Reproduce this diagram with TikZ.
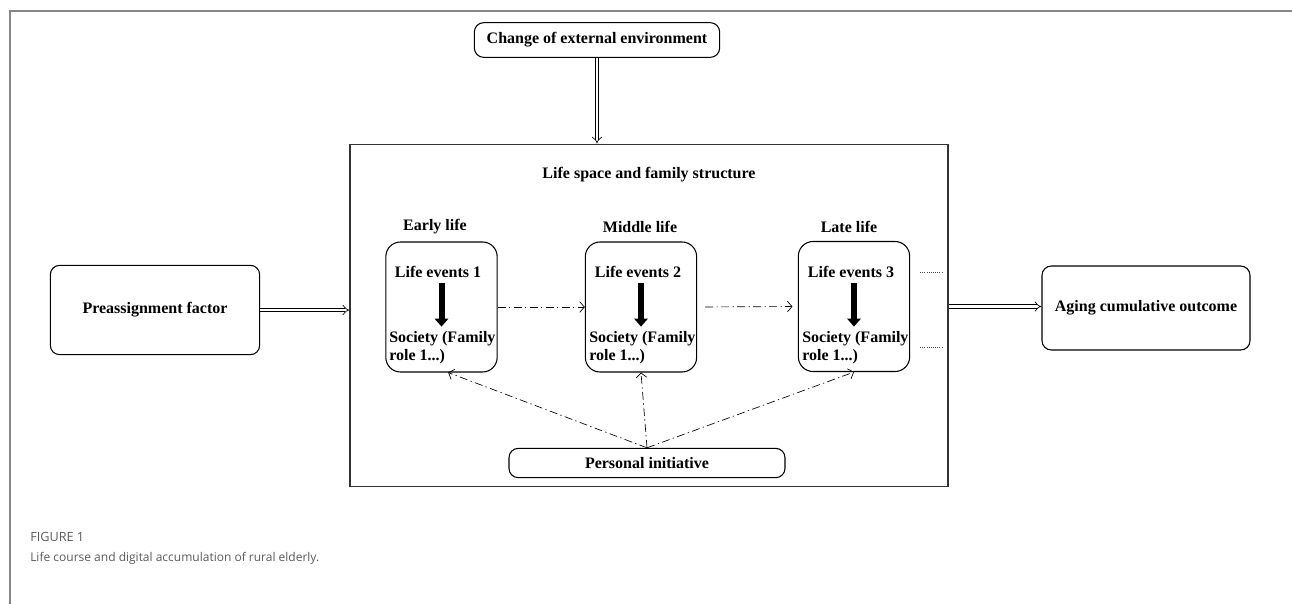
\documentclass[tikz,border=0pt]{standalone}
\usepackage{fontspec}
\setmainfont{Liberation Serif}
\newfontfamily\capfont{Open Sans}
\usepackage{tikz}
\usetikzlibrary{arrows.meta,positioning,calc}
\definecolor{capgray}{RGB}{90,90,90}
\definecolor{framegray}{RGB}{135,135,135}

\begin{document}
\begin{tikzpicture}[x=0.75pt,y=-0.75pt,
    font=\bfseries\fontsize{12}{14}\selectfont,inner sep=0pt,
    rbox/.style={draw,rounded corners=7pt,line width=0.8pt},
    stagebox/.style={rbox,rounded corners=11pt,minimum width=83.5pt,minimum height=97.5pt},
    dbl/.style={double,double distance=2.2pt,line width=0.5pt,-{Implies}},
    dashdot/.style={line width=0.5pt,dash pattern=on 6pt off 2.5pt on 1pt off 2.5pt,-{Straight Barb[length=3.5pt,width=8pt]}},
    down/.style={line width=4.5pt,-{Triangle[length=6pt,width=10pt]},shorten <=4pt,shorten >=3pt}]
  \useasboundingbox (0,0) rectangle (1292,604);
  % panel frame
  \draw[framegray,line width=1.3pt] (10,604) -- (10,11) -- (1292,11);

  \node[draw=black!80,line width=0.9pt,minimum width=448.5pt,minimum height=257pt] (space) at (649,315.5) {};
  \node (title) at (649,175) {Life space and family structure};

  \node[rbox,minimum width=184pt,minimum height=26pt] (chg) at (597,40) {Change of external environment};
  \node[rbox,minimum width=157pt,minimum height=67pt] (pre) at (155,310) {Preassignment factor};
  \node[rbox,minimum width=156pt,minimum height=63pt] (aging) at (1146,308) {Aging cumulative outcome};
  \node[rbox,minimum width=207pt,minimum height=22pt] (pers) at (647,463) {Personal initiative};

  % three stages
  \node[stagebox] (early) at (441.5,307) {};
  \node[stagebox] (middle) at (641,307) {};
  \node[stagebox] (late) at (854,306.5) {};
  \node (earlylbl) at (435,227) {Early life};
  \node (middlelbl) at (640,227) {Middle life};
  \node (latelbl) at (849,227) {Late life};

  \node (ev1) at (438,272) {Life events 1};
  \node (ev2) at (638,272) {Life events 2};
  \node (ev3) at (851,272) {Life events 3};
  \node[anchor=west,align=left] (so1) at (389,347.5) {Society (Family\\role 1...)};
  \node[anchor=west,align=left] (so2) at (589,347.5) {Society (Family\\role 1...)};
  \node[anchor=west,align=left] (so3) at (802,347.5) {Society (Family\\role 1...)};

  \draw[down] (early |- ev1.south) -- (early |- so1.north);
  \draw[down] (middle |- ev2.south) -- (middle |- so2.north);
  \draw[down] (late |- ev3.south) -- (late |- so3.north);

  \draw[dashdot] (early.east) -- (middle.west);
  \draw[dashdot,shorten <=6pt,shorten >=4pt] (middle.east) -- (late.west);
  % unfinished stages
  \draw[black!70,densely dotted,line width=0.6pt] ($(late.east)+(10,-34.5)$) -- ++(22,0);
  \draw[black!70,densely dotted,line width=0.6pt] ($(late.east)+(10,40.5)$) -- ++(22,0);

  \draw[dashdot] (pers.north) -- ([xshift=5pt]early.south);
  \draw[dashdot] (pers.north) -- (middle.south);
  \draw[dashdot] (pers.north) -- (late.south);

  \draw[dbl] (chg.south) -- (chg.south |- space.north);
  \draw[dbl] (pre.east) -- (pre.east -| space.west);
  \draw[dbl] (late -| space.east) -- (late -| aging.west);

  \node[anchor=west,font=\normalfont\capfont\fontsize{9.5}{11}\selectfont,text=capgray] (fig) at (30,537) {FIGURE 1};
  \node[anchor=west,font=\normalfont\capfont\fontsize{9}{11}\selectfont,text=capgray] (cap) at (30,558) {Life course and digital accumulation of rural elderly.};
\end{tikzpicture}
\end{document}
